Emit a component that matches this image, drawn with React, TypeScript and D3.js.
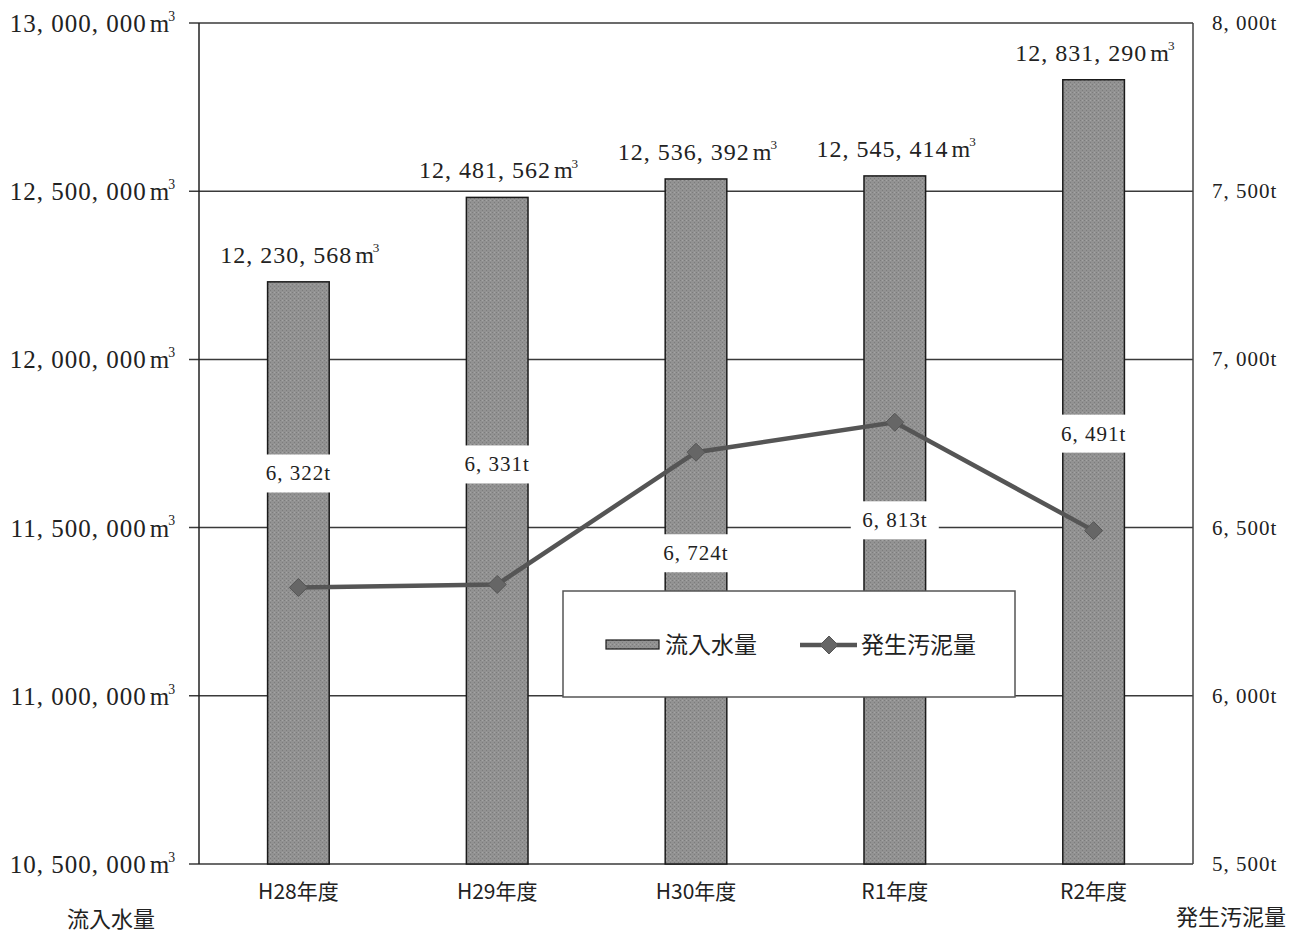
import React from 'react';
import * as d3 from 'd3';

// data
const categories = ['H28年度', 'H29年度', 'H30年度', 'R1年度', 'R2年度'];
const inflow = [12230568, 12481562, 12536392, 12545414, 12831290];
const sludge = [6322, 6331, 6724, 6813, 6491];
const leftTicks = [10500000, 11000000, 11500000, 12000000, 12500000, 13000000];
const rightTicks = [5500, 6000, 6500, 7000, 7500, 8000];

// where Excel put the sludge labels, relative to the marker (px)
const sludgeLabelDy = [-114, -120, 101, 98, -97];

const W = 1304;
const H = 935;
const plot = { left: 199, right: 1193, top: 23, bottom: 864 };

const numFont = '"Liberation Serif", "DejaVu Serif", serif';
const jpFont = '"Noto Sans CJK JP", "Noto Sans", sans-serif';

const fmt = (v: number) => d3.format(',')(v).replace(/,/g, ', ');

function M3Label({ x, y, value, size }: { x: number; y: number; value: number; size: number }) {
  // number + m + superscript 3, anchored at end
  return (
    <text x={x} y={y} textAnchor="end" fontFamily={numFont} fontSize={size} fill="#222" letterSpacing={1}>
      {fmt(value)}
      <tspan dx={3}>m</tspan>
      <tspan dy={-size * 0.45} fontSize={size * 0.55} dx={-2}>3</tspan>
    </text>
  );
}

export default function App() {
  const x = d3.scaleBand<string>().domain(categories).range([plot.left, plot.right]).paddingInner(0.69).paddingOuter(0.345);
  const yL = d3.scaleLinear().domain([10500000, 13000000]).range([plot.bottom, plot.top]);
  const yR = d3.scaleLinear().domain([5500, 8000]).range([plot.bottom, plot.top]);
  const cx = (c: string) => (x(c) ?? 0) + x.bandwidth() / 2;

  const line = d3.line<number>()
    .x((_, i) => cx(categories[i]))
    .y((d) => yR(d));

  const diamond = (px: number, py: number, r: number) =>
    `M${px},${py - r} L${px + r},${py} L${px},${py + r} L${px - r},${py} Z`;

  const legend = { x: 563, y: 591, w: 452, h: 106 };

  return (
    <svg width={W} height={H} style={{ position: 'absolute', left: 0, top: 0, background: '#fff' }}>
      <defs>
        <pattern id="barTex" width="4" height="4" patternUnits="userSpaceOnUse">
          <rect width="4" height="4" fill="#929292" />
          <rect x="0" y="0" width="1" height="1" fill="#7c7c7c" />
          <rect x="2" y="2" width="1" height="1" fill="#7c7c7c" />
          <rect x="2" y="0" width="1" height="1" fill="#a4a4a4" />
        </pattern>
      </defs>

      {/* gridlines + left ticks */}
      {leftTicks.map((t) => (
        <line key={t} x1={plot.left - 10} x2={plot.right} y1={yL(t)} y2={yL(t)} stroke="#3a3a3a" strokeWidth={1.5} />
      ))}
      {/* plot frame */}
      <line x1={plot.left} x2={plot.left} y1={plot.top} y2={plot.bottom} stroke="#222" strokeWidth={1.5} />
      <line x1={plot.right} x2={plot.right} y1={plot.top} y2={plot.bottom} stroke="#444" strokeWidth={1.5} />

      {/* bars */}
      {inflow.map((v, i) => (
        <rect
          key={categories[i]}
          x={x(categories[i])}
          y={yL(v)}
          width={x.bandwidth()}
          height={plot.bottom - yL(v)}
          fill="url(#barTex)"
          stroke="#1a1a1a"
          strokeWidth={1.5}
        />
      ))}

      {/* inflow labels */}
      {inflow.map((v, i) => (
        <M3Label key={'l' + i} x={cx(categories[i]) + 82} y={yL(v) - 19} value={v} size={24} />
      ))}

      {/* sludge line */}
      <path d={line(sludge) ?? ''} fill="none" stroke="#555" strokeWidth={4.5} />
      {sludge.map((v, i) => (
        <path key={'m' + i} d={diamond(cx(categories[i]), yR(v), 9)} fill="#666" stroke="#555" strokeWidth={1} />
      ))}

      {/* sludge labels with white boxes */}
      {sludge.map((v, i) => {
        const px = cx(categories[i]);
        const py = yR(v) + sludgeLabelDy[i];
        return (
          <g key={'s' + i}>
            <rect x={px - 44} y={py - 19} width={88} height={38} fill="#fff" />
            <text x={px} y={py + 7} textAnchor="middle" fontFamily={numFont} fontSize={21} fill="#222" letterSpacing={1}>
              {fmt(v)}t
            </text>
          </g>
        );
      })}

      {/* left axis labels */}
      {leftTicks.map((t) => (
        <M3Label key={'a' + t} x={176} y={yL(t) + 9} value={t} size={25} />
      ))}

      {/* right axis labels */}
      {rightTicks.map((t) => (
        <text key={'r' + t} x={1212} y={yR(t) + 7} fontFamily={numFont} fontSize={21} fill="#222" letterSpacing={1}>
          {fmt(t)}t
        </text>
      ))}

      {/* category labels */}
      {categories.map((c) => (
        <text key={c} x={cx(c)} y={899} textAnchor="middle" fontFamily={jpFont} fontSize={21} fill="#222">
          {c}
        </text>
      ))}

      {/* axis titles */}
      <text x={111} y={927} textAnchor="middle" fontFamily={jpFont} fontSize={22} fill="#222">流入水量</text>
      <text x={1231} y={925} textAnchor="middle" fontFamily={jpFont} fontSize={22} fill="#222">発生汚泥量</text>

      {/* legend */}
      <rect x={legend.x} y={legend.y} width={legend.w} height={legend.h} fill="#fff" stroke="#555" strokeWidth={1.5} />
      <rect x={606} y={640} width={53} height={9} fill="url(#barTex)" stroke="#1a1a1a" strokeWidth={1.2} />
      <text x={665} y={653} fontFamily={jpFont} fontSize={23} fill="#222">流入水量</text>
      <line x1={800} x2={857} y1={645} y2={645} stroke="#555" strokeWidth={4.5} />
      <path d={diamond(829, 645, 9)} fill="#666" stroke="#555" strokeWidth={1} />
      <text x={861} y={653} fontFamily={jpFont} fontSize={23} fill="#222">発生汚泥量</text>
    </svg>
  );
}
